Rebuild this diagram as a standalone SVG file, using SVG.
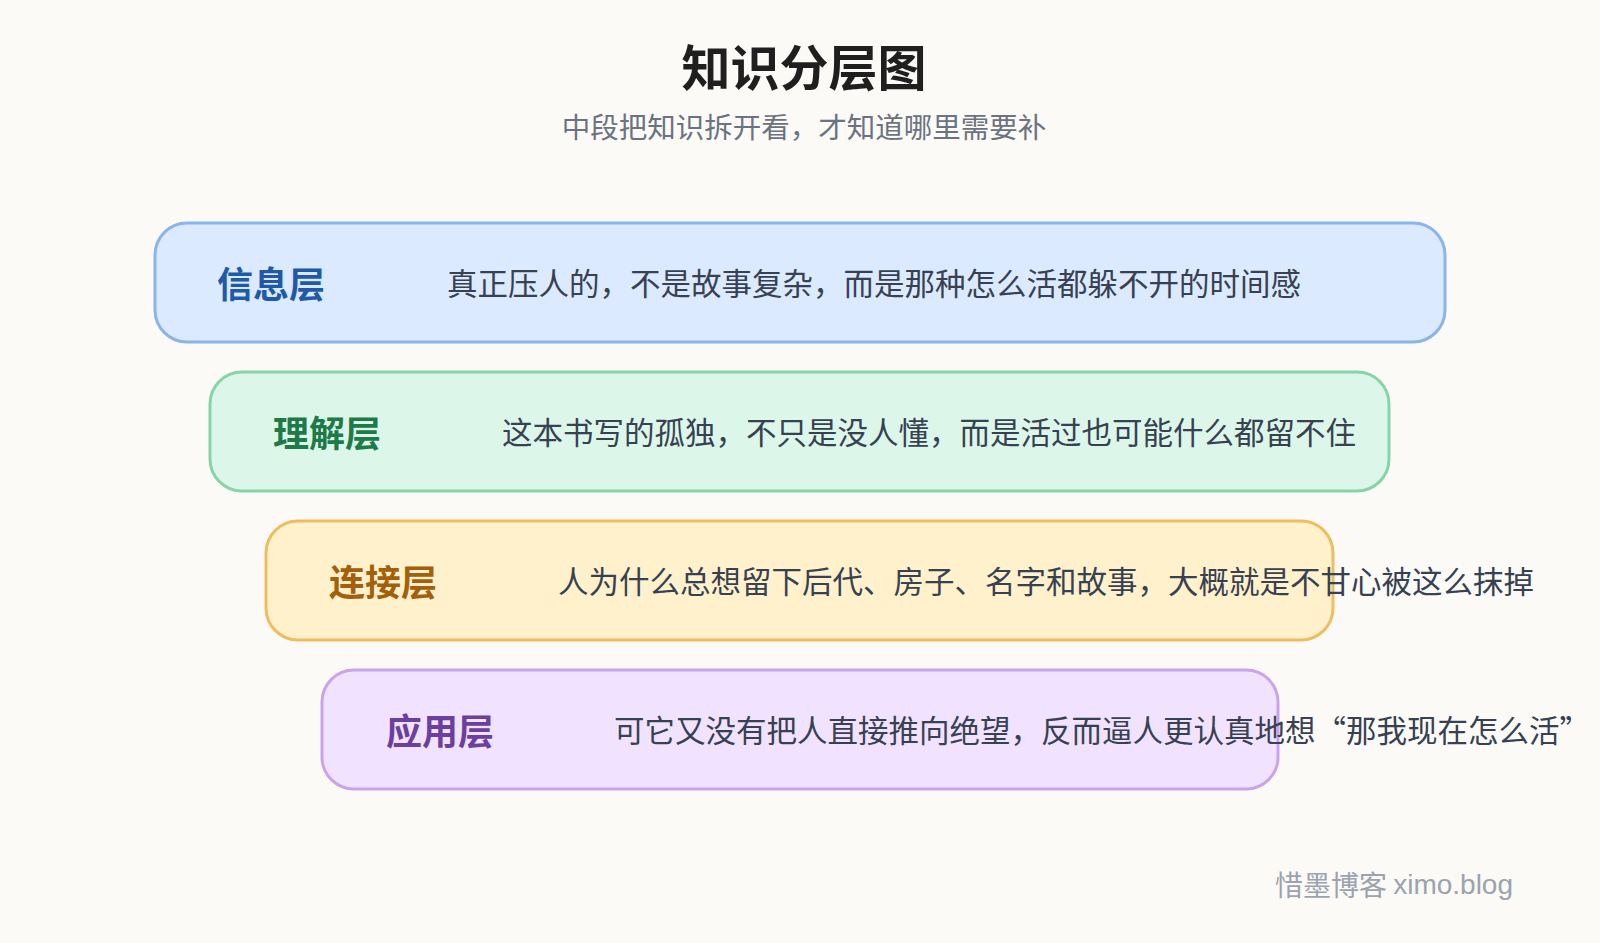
<svg xmlns="http://www.w3.org/2000/svg" width="1600" height="943" viewBox="0 0 1600 943">
<style>
text{font-family:"Noto Sans CJK SC","Noto Sans",sans-serif;dominant-baseline:central}
.box{stroke-width:3}
.lab{font-size:36px;font-weight:700}
.txt{font-size:30.5px;fill:#374151}
</style>
<rect width="1600" height="943" fill="#fbfaf6"/>
<text x="804" y="64" text-anchor="middle" font-size="49" font-weight="700" fill="#1f1f1f">知识分层图</text>
<text x="804" y="125" text-anchor="middle" font-size="28.5" fill="#6b7280">中段把知识拆开看，才知道哪里需要补</text>
<g id="layer1"><rect class="box" x="155" y="223" width="1290" height="119" rx="32" fill="#dbeafe" stroke="#8ab4ec"/>
<text class="lab" x="217" y="282" fill="#1e5aa8">信息层</text>
<text class="txt" x="447" y="282">真正压人的，不是故事复杂，而是那种怎么活都躲不开的时间感</text></g>
<g id="layer2"><rect class="box" x="210" y="372" width="1179" height="119" rx="32" fill="#dcf7e9" stroke="#86d4a8"/>
<text class="lab" x="273" y="431" fill="#1f7a4a">理解层</text>
<text class="txt" x="502" y="431">这本书写的孤独，不只是没人懂，而是活过也可能什么都留不住</text></g>
<g id="layer3"><rect class="box" x="266" y="521" width="1067" height="119" rx="32" fill="#fff1cc" stroke="#efbd60"/>
<text class="lab" x="329" y="580" fill="#a35f0a">连接层</text>
<text class="txt" x="558" y="580">人为什么总想留下后代、房子、名字和故事，大概就是不甘心被这么抹掉</text></g>
<g id="layer4"><rect class="box" x="322" y="670" width="956" height="119" rx="32" fill="#f1e3ff" stroke="#c9a3ec"/>
<text class="lab" x="386" y="729" fill="#6b3fa0">应用层</text>
<text class="txt" x="614" y="729">可它又没有把人直接推向绝望，反而逼人更认真地想“那我现在怎么活”</text></g>
<g id="connectors"/>
<text x="1513" y="884" text-anchor="end" font-size="28" fill="#9ca3af">惜墨博客 <tspan font-family="Liberation Sans,sans-serif">ximo.blog</tspan></text>
</svg>
